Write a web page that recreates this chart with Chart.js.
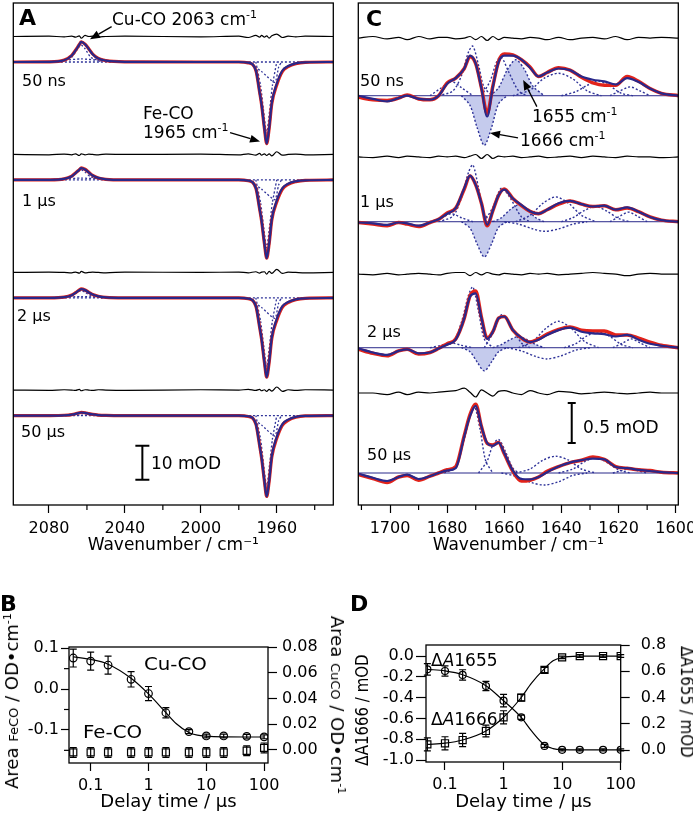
<!DOCTYPE html>
<html lang="en">
<head>
<meta charset="UTF-8">
<title>Time-resolved IR difference spectra</title>
<script src="https://cdn.jsdelivr.net/npm/chart.js"></script>
<style>
    body { margin: 0; background: #fff; }
    #fig { position: relative; width: 693px; height: 819px; overflow: hidden; font-family: 'DejaVu Sans', sans-serif; color: #000; }
    #fig canvas { position: absolute; }
    .t { position: absolute; white-space: nowrap; font-size: 16px; line-height: 1; transform: translateY(-50%); }
    .t sup { font-size: 11px; line-height: 0; vertical-align: 7px; }
    .n17 { font-size: 17px; }
    .big { font-size: 22px; font-weight: bold; }
    .wide { transform: translateY(-50%) scaleX(1.1); transform-origin: left center; font-size: 18px; }
    .rl { transform: translate(-50%, -50%) rotate(-90deg); font-size: 18px; }
    .rr { transform: translate(-50%, -50%) rotate(90deg); font-size: 18px; }
    .rls { transform: translate(-50%, -50%) scaleX(1.15) rotate(-90deg); font-size: 15px; }
    .rrs { transform: translate(-50%, -50%) scaleX(1.15) rotate(90deg); font-size: 15px; }
</style>
</head>
<body>
<div id="fig">
    <canvas id="chartA" width="345" height="560" style="left:0;top:0"></canvas>
    <canvas id="chartC" width="370" height="560" style="left:345px;top:0"></canvas>
    <canvas id="chartB" width="350" height="259" style="left:0;top:560px"></canvas>
    <canvas id="chartD" width="343" height="259" style="left:350px;top:560px"></canvas>

    <div class="t big" style="left:19px;top:18px">A</div>
    <div class="t big" style="left:366px;top:19px">C</div>
    <div class="t big" style="left:0px;top:604px">B</div>
    <div class="t big" style="left:350px;top:604px">D</div>

    <div class="t n17" style="left:112px;top:19px">Cu-CO 2063 cm<sup>-1</sup></div>
    <div class="t n17" style="left:143px;top:113px">Fe-CO</div>
    <div class="t n17" style="left:143px;top:132px">1965 cm<sup>-1</sup></div>
    <div class="t n17" style="left:151px;top:463px">10 mOD</div>

    <div class="t n17" style="left:583px;top:427px">0.5 mOD</div>
    <div class="t n17" style="left:532px;top:116px">1655 cm<sup>-1</sup></div>
    <div class="t n17" style="left:520px;top:140px">1666 cm<sup>-1</sup></div>

    <div class="t wide" style="left:144px;top:664px">Cu-CO</div>
    <div class="t wide" style="left:83px;top:732px">Fe-CO</div>
    <div class="t rl" style="left:12px;top:701px">Area <span style="font-size:13px">FeCO</span> / OD•cm<sup>-1</sup></div>
    <div class="t rr" style="left:337px;top:705px">Area <span style="font-size:13px">CuCO</span> / OD•cm<sup>-1</sup></div>

    <div class="t n17" style="left:431px;top:660px">Δ<i>A</i>1655</div>
    <div class="t n17" style="left:431px;top:719px">Δ<i>A</i>1666</div>
    <div class="t rls" style="left:363px;top:710px">ΔA1666 / mOD</div>
    <div class="t rrs" style="left:686px;top:702px">ΔA1655 / mOD</div>
</div>

<script>
    // ---- row labels (delay after photolysis) ----
    const delays = ['50 ns', '1 \u03BCs', '2 \u03BCs', '50 \u03BCs'];

    // ---- panel A: CO stretch region, mOD ----
    const ticksA = [2080, 2040, 2000, 1960];
    const minorA = [2060, 2020, 1980, 1940];
    const wnA = [2099, 2080, 2072, 2068, 2066, 2064, 2063, 2061, 2059, 2057, 2054, 2050, 2040, 2000, 1980,
        1975, 1971, 1969, 1968, 1966.5, 1965.3, 1964, 1962.6, 1960, 1957, 1954, 1950, 1945, 1930];
    const fitA = [
        [0, 0.05, 0.5, 1.9, 3.4, 5.1, 5.9, 5.2, 3.8, 2.3, 1.0, 0.4, 0.05, 0, 0, -0.2, -2.5, -9, -12.5, -19.5, -24, -19.5, -12, -6.4, -2.5, -1.2, -0.4, -0.1, 0],
        [0, 0.03, 0.3, 1.1, 2.0, 3.0, 3.5, 3.1, 2.2, 1.3, 0.6, 0.2, 0.03, 0, 0, -0.2, -2.4, -8.6, -12, -18.7, -23, -18.7, -11.5, -6.1, -2.4, -1.1, -0.4, -0.1, 0],
        [0, 0.02, 0.22, 0.8, 1.5, 2.3, 2.6, 2.3, 1.6, 1.0, 0.45, 0.15, 0.02, 0, 0, -0.2, -2.4, -8.7, -12.1, -18.9, -23.3, -18.9, -11.6, -6.2, -2.4, -1.2, -0.4, -0.1, 0],
        [0, 0.01, 0.08, 0.28, 0.5, 0.8, 0.9, 0.8, 0.55, 0.33, 0.15, 0.05, 0, 0, 0, -0.2, -2.5, -8.9, -12.4, -19.3, -23.8, -19.3, -11.9, -6.3, -2.5, -1.2, -0.4, -0.1, 0]
    ];
    const dataA = [
        [0, 0.05, 0.55, 1.95, 3.45, 5.15, 5.95, 5.25, 3.85, 2.35, 1.05, 0.4, 0.05, 0, 0, -0.25, -2.5, -9, -12.5, -19.5, -24, -19.6, -12.3, -6.8, -2.8, -1.4, -0.5, -0.1, 0],
        [0, 0.03, 0.32, 1.15, 2.05, 3.05, 3.55, 3.15, 2.25, 1.35, 0.6, 0.2, 0.03, 0, 0, -0.25, -2.4, -8.6, -12, -18.7, -23, -18.8, -11.8, -6.5, -2.7, -1.3, -0.5, -0.1, 0],
        [0, 0.02, 0.24, 0.85, 1.55, 2.35, 2.65, 2.35, 1.65, 1.0, 0.48, 0.15, 0.02, 0, 0, -0.25, -2.4, -8.7, -12.1, -18.9, -23.3, -19.0, -11.9, -6.6, -2.7, -1.4, -0.5, -0.1, 0],
        [0, 0.01, 0.09, 0.29, 0.52, 0.82, 0.92, 0.82, 0.57, 0.34, 0.15, 0.05, 0, 0, 0, -0.25, -2.5, -8.9, -12.4, -19.3, -23.8, -19.4, -12.2, -6.7, -2.8, -1.4, -0.5, -0.1, 0]
    ];
    const residA = [
        [0, 0.1, -0.1, 0.1, -0.2, 0.2, -0.5, 0.3, 0, 0.1, -0.1, 0, 0.1, -0.1, 0.1, -0.3, 0.3, -0.2, 0.3, -0.2, 0.2, -0.5, 0.2, 0.7, -0.3, 0.1, -0.1, 0.1, 0],
        [0, -0.1, 0.1, -0.1, 0.2, -0.3, 0.2, -0.1, 0.1, 0, -0.1, 0.1, 0, 0.1, -0.1, 0.2, -0.2, 0.3, -0.2, 0.2, -0.3, 0.2, -0.4, 0.8, -0.2, 0, 0.1, -0.1, 0],
        [0, 0.1, 0, -0.1, 0.1, -0.2, 0.3, -0.1, 0, 0.1, 0, -0.1, 0.1, 0, 0.1, -0.1, 0.2, -0.2, 0.1, 0.2, -0.5, 0.3, -0.3, 0.9, -0.3, 0.1, 0, -0.1, 0],
        [0, -0.1, 0.1, 0, -0.1, 0.2, -0.2, 0.1, 0, -0.1, 0.1, 0, -0.1, 0.1, 0, 0.2, -0.1, 0.2, -0.2, 0.1, -0.4, 0.2, -0.3, 0.9, -0.4, 0.1, -0.1, 0.1, 0]
    ];
    // fitted bands, [wavenumber, mOD]
    const cuBandA = [
        [[2074, 0], [2068, 1.4], [2065, 3.8], [2063, 5.0], [2061, 3.9], [2058, 1.4], [2052, 0]],
        [[2074, 0], [2068, 0.9], [2065, 2.3], [2063, 3.0], [2061, 2.3], [2058, 0.9], [2052, 0]],
        [[2074, 0], [2068, 0.6], [2065, 1.7], [2063, 2.2], [2061, 1.7], [2058, 0.6], [2052, 0]],
        [[2074, 0], [2068, 0.2], [2065, 0.6], [2063, 0.75], [2061, 0.6], [2058, 0.2], [2052, 0]]
    ];
    const cuBroadA = [
        [[2082, 0], [2072, 0.5], [2063, 0.9], [2054, 0.5], [2044, 0]],
        [[2082, 0], [2072, 0.3], [2063, 0.55], [2054, 0.3], [2044, 0]],
        [[2082, 0], [2072, 0.2], [2063, 0.4], [2054, 0.2], [2044, 0]],
        [[2082, 0], [2072, 0.08], [2063, 0.15], [2054, 0.08], [2044, 0]]
    ];
    const feBandA = [
        [[1971, 0], [1968.5, -7], [1967, -14], [1965.3, -21], [1963.7, -14], [1962.3, -7], [1960, 0]],
        [[1971, 0], [1968.5, -6.7], [1967, -13.3], [1965.3, -20], [1963.7, -13.3], [1962.3, -6.7], [1960, 0]],
        [[1971, 0], [1968.5, -6.8], [1967, -13.5], [1965.3, -20.3], [1963.7, -13.5], [1962.3, -6.8], [1960, 0]],
        [[1971, 0], [1968.5, -7], [1967, -14], [1965.3, -21], [1963.7, -14], [1962.3, -7], [1960, 0]]
    ];
    const feBroadA = [
        [[1975, 0], [1968, -2.8], [1961, -6], [1959, -1.5], [1957.5, 0]],
        [[1975, 0], [1968, -2.7], [1961, -5.8], [1959, -1.5], [1957.5, 0]],
        [[1975, 0], [1968, -2.8], [1961, -6], [1959, -1.5], [1957.5, 0]],
        [[1975, 0], [1968, -2.8], [1961, -6], [1959, -1.5], [1957.5, 0]]
    ];

    // ---- panel C: amide I region, mOD ----
    const ticksC = [1700, 1680, 1660, 1640, 1620, 1600];
    const minorC = [1710, 1690, 1670, 1650, 1630, 1610];
    const wnC = [1711, 1706, 1701, 1697, 1694, 1690, 1686, 1683, 1680, 1677, 1674, 1672, 1670, 1668, 1666, 1664, 1662,
        1660, 1657, 1654, 1651, 1648, 1645, 1641, 1637, 1633, 1629, 1625, 1621, 1617, 1613, 1609, 1605, 1599];
    const fitC = [
        [0, -0.04, -0.07, -0.03, 0.0, -0.04, -0.05, 0, 0.15, 0.22, 0.34, 0.50, 0.40, 0.09, -0.26, 0.11, 0.42, 0.50, 0.50, 0.45, 0.35, 0.24, 0.29, 0.34, 0.32, 0.24, 0.20, 0.18, 0.14, 0.22, 0.17, 0.09, 0.03, 0],
        [-0.01, -0.02, -0.04, -0.01, -0.02, -0.05, -0.01, 0.03, 0.10, 0.17, 0.42, 0.575, 0.46, 0.23, -0.04, 0.14, 0.33, 0.40, 0.29, 0.21, 0.13, 0.10, 0.15, 0.23, 0.26, 0.22, 0.19, 0.20, 0.15, 0.18, 0.125, 0.06, 0.02, 0],
        [-0.01, -0.06, -0.09, -0.04, -0.02, -0.07, -0.06, -0.01, 0.04, 0.10, 0.37, 0.64, 0.68, 0.37, 0.11, 0.20, 0.37, 0.39, 0.22, 0.125, 0.07, 0.10, 0.16, 0.22, 0.25, 0.20, 0.18, 0.17, 0.14, 0.16, 0.10, 0.05, 0.025, 0],
        [-0.01, -0.06, -0.10, -0.05, -0.02, -0.075, -0.04, 0, 0.03, 0.06, 0.46, 0.71, 0.84, 0.58, 0.375, 0.34, 0.38, 0.25, 0.03, -0.075, -0.08, -0.05, 0.01, 0.08, 0.13, 0.16, 0.18, 0.17, 0.075, 0.06, 0.04, 0.025, 0.01, 0]
    ];
    const dataC = [
        [-0.02, -0.05, -0.06, -0.03, 0.01, -0.04, -0.05, 0, 0.16, 0.22, 0.34, 0.49, 0.40, 0.10, -0.22, 0.12, 0.43, 0.52, 0.51, 0.45, 0.36, 0.24, 0.29, 0.35, 0.32, 0.23, 0.16, 0.13, 0.13, 0.24, 0.18, 0.09, 0.03, 0],
        [-0.01, -0.03, -0.05, -0.01, -0.03, -0.06, -0.01, 0.03, 0.11, 0.17, 0.41, 0.57, 0.46, 0.23, -0.05, 0.14, 0.33, 0.41, 0.29, 0.20, 0.13, 0.10, 0.15, 0.22, 0.26, 0.22, 0.19, 0.20, 0.15, 0.17, 0.125, 0.06, 0.02, 0],
        [-0.02, -0.07, -0.10, -0.04, -0.02, -0.08, -0.06, -0.01, 0.05, 0.11, 0.37, 0.65, 0.71, 0.38, 0.12, 0.20, 0.37, 0.39, 0.22, 0.12, 0.07, 0.11, 0.17, 0.23, 0.26, 0.22, 0.21, 0.21, 0.16, 0.16, 0.12, 0.07, 0.03, 0],
        [-0.02, -0.07, -0.12, -0.05, -0.03, -0.09, -0.04, 0, 0.04, 0.08, 0.47, 0.73, 0.86, 0.58, 0.37, 0.35, 0.38, 0.24, 0.02, -0.10, -0.09, -0.05, 0.02, 0.08, 0.13, 0.16, 0.20, 0.17, 0.08, 0.06, 0.04, 0.03, 0.01, 0]
    ];
    const residC = [
        [0, 0.02, -0.01, 0.01, -0.02, 0.02, -0.01, 0.01, 0.01, -0.01, 0.0, 0.02, -0.02, 0.02, -0.03, 0.02, -0.02, 0.01, 0.0, -0.01, 0.01, 0.0, -0.02, 0.01, -0.02, 0.0, 0.01, -0.01, 0.02, -0.02, 0.01, 0.0, 0.01, 0],
        [0, -0.01, 0.01, -0.01, 0.01, 0.0, -0.01, 0.01, 0.0, 0.01, -0.01, 0.01, 0.03, -0.02, 0.03, -0.02, 0.01, 0.0, 0.01, -0.01, 0.0, 0.01, -0.01, 0.0, 0.01, -0.01, 0.01, 0.0, -0.01, 0.01, 0.0, 0.0, -0.01, 0],
        [0, -0.01, 0.01, -0.01, 0.0, 0.01, 0.0, -0.01, 0.01, 0.02, 0.02, -0.02, 0.02, -0.01, 0.02, 0.0, -0.01, 0.01, 0.0, -0.01, 0.01, 0.0, 0.01, -0.01, 0.0, 0.01, 0.02, 0.01, 0.0, -0.02, 0.0, 0.01, 0.0, 0],
        [0, 0.0, -0.02, 0.01, -0.02, 0.01, 0.0, 0.01, 0.02, 0.03, 0.06, 0.01, -0.05, 0.04, 0.0, -0.04, 0.02, 0.03, 0.0, -0.02, 0.03, 0.0, -0.02, 0.02, 0.01, -0.01, 0.0, 0.01, 0.0, -0.01, 0.0, 0.01, 0.0, 0]
    ];
    // fitted bands per row, [wavenumber, mOD]
    const bandsC = [
        [
            [[1683, 0], [1678, 0.06], [1675, 0.25], [1672.5, 0.55], [1671, 0.62], [1669, 0.38], [1667, 0.10], [1664, 0]],
            [[1686, 0], [1682, 0.10], [1678.5, 0.18], [1675, 0.10], [1671, 0]],
            [[1668, 0], [1665, 0.18], [1662.5, 0.44], [1661, 0.48], [1658.5, 0.30], [1655, 0.06], [1652, 0]],
            [[1657, 0], [1651, 0.07], [1646, 0.22], [1641, 0.28], [1636, 0.21], [1631, 0.06], [1626, 0]],
            [[1640, 0], [1635, 0.05], [1631, 0.13], [1627, 0.18], [1623, 0.12], [1619, 0.03], [1615, 0]],
            [[1623, 0], [1619.5, 0.06], [1616, 0.11], [1612.5, 0.06], [1609, 0]]
        ],
        [
            [[1683, 0], [1678, 0.07], [1675, 0.30], [1672.5, 0.62], [1671, 0.71], [1669, 0.42], [1667, 0.10], [1664, 0]],
            [[1686, 0], [1682, 0.05], [1678.5, 0.10], [1675, 0.05], [1671, 0]],
            [[1667, 0], [1664, 0.18], [1661, 0.42], [1658, 0.30], [1654, 0.06], [1651, 0]],
            [[1656, 0], [1651, 0.08], [1646.5, 0.23], [1642, 0.31], [1637.5, 0.23], [1633, 0.08], [1628, 0]],
            [[1660, 0], [1655, -0.03], [1650, -0.09], [1646, -0.12], [1641, -0.09], [1636, -0.03], [1631, 0]],
            [[1640, 0], [1636, 0.05], [1632, 0.14], [1628, 0.19], [1624, 0.13], [1620, 0.04], [1616, 0]],
            [[1623, 0], [1619.5, 0.07], [1616.5, 0.12], [1613.5, 0.07], [1610, 0]]
        ],
        [
            [[1683, 0], [1678, 0.07], [1675, 0.32], [1672.5, 0.66], [1671, 0.76], [1669, 0.45], [1667, 0.11], [1664, 0]],
            [[1686, 0], [1682, 0.03], [1678.5, 0.06], [1675, 0.03], [1671, 0]],
            [[1667, 0], [1664, 0.18], [1661, 0.41], [1658, 0.29], [1654, 0.06], [1651, 0]],
            [[1655, 0], [1650, 0.08], [1645.5, 0.24], [1641, 0.33], [1636.5, 0.24], [1632, 0.08], [1627, 0]],
            [[1659, 0], [1654, -0.04], [1649, -0.11], [1645, -0.14], [1640, -0.10], [1635, -0.03], [1630, 0]],
            [[1639, 0], [1635, 0.05], [1631, 0.15], [1627, 0.20], [1623, 0.14], [1619, 0.04], [1615, 0]],
            [[1622, 0], [1618.5, 0.06], [1615.5, 0.11], [1612.5, 0.06], [1609, 0]]
        ],
        [
            [[1681, 0], [1677, 0.08], [1674, 0.42], [1672, 0.74], [1670.5, 0.84], [1668.5, 0.55], [1666.5, 0.15], [1664, 0]],
            [[1669, 0], [1666, 0.15], [1664, 0.35], [1662, 0.42], [1659.5, 0.26], [1657, 0.06], [1655, 0]],
            [[1656, 0], [1651, 0.05], [1646.5, 0.16], [1642, 0.21], [1637.5, 0.16], [1633, 0.05], [1628, 0]],
            [[1661, 0], [1656, -0.04], [1650.5, -0.12], [1646, -0.15], [1641, -0.11], [1636, -0.03], [1631, 0]],
            [[1641, 0], [1636, 0.05], [1632, 0.14], [1628, 0.19], [1624, 0.13], [1620, 0.04], [1616, 0]],
            [[1622, 0], [1619, 0.03], [1616.5, 0.05], [1613.5, 0.03], [1610, 0]]
        ]
    ];
    // shaded 1666 (bleach) and 1655 bands, rows 1-3
    const band1666 = [
        [[1675, 0], [1672, -0.12], [1669.5, -0.40], [1667, -0.62], [1664.5, -0.40], [1662, -0.10], [1659, 0]],
        [[1675, 0], [1672, -0.08], [1669.5, -0.28], [1667, -0.44], [1664.5, -0.28], [1662, -0.07], [1659, 0]],
        [[1675, 0], [1672, -0.05], [1669.5, -0.18], [1667, -0.29], [1664.5, -0.18], [1662, -0.05], [1659, 0]]
    ];
    const band1655 = [
        [[1665, 0], [1662, 0.10], [1659, 0.32], [1656, 0.45], [1653, 0.33], [1650, 0.12], [1646, 0]],
        [[1664, 0], [1661, 0.05], [1658, 0.15], [1655, 0.21], [1652, 0.15], [1649, 0.05], [1646, 0]],
        [[1664, 0], [1661, 0.04], [1658, 0.10], [1655, 0.14], [1652, 0.10], [1649, 0.04], [1646, 0]]
    ];

    // ---- panel B: band areas vs delay ----
    const decades = [0.1, 1, 10, 100];
    const delayT = [0.05, 0.1, 0.2, 0.5, 1, 2, 5, 10, 20, 50, 100];
    const areaCuCO = [0.0716, 0.0692, 0.0661, 0.055, 0.0439, 0.0289, 0.0142, 0.0108, 0.0108, 0.0105, 0.0101];
    const errCuCO = [0.007, 0.007, 0.007, 0.006, 0.0055, 0.004, 0.0015, 0.0015, 0.0015, 0.0015, 0.0015];
    const areaFeCO = [-0.155, -0.155, -0.155, -0.155, -0.155, -0.155, -0.155, -0.155, -0.155, -0.151, -0.144];
    const errFeCO = [0.012, 0.012, 0.012, 0.012, 0.012, 0.012, 0.012, 0.012, 0.012, 0.012, 0.012];
    const fitT = [0.05, 0.1, 0.2, 0.5, 1, 2, 3, 5, 7, 10, 20, 50, 100];
    const fitCuCO = [0.0725, 0.0705, 0.0668, 0.0558, 0.0436, 0.0290, 0.0205, 0.0135, 0.0114, 0.0106, 0.0101, 0.0100, 0.0100];

    // ---- panel D: absorbance changes vs delay ----
    const dA1666 = [-0.128, -0.144, -0.182, -0.288, -0.429, -0.589, -0.864, -0.902, -0.902, -0.902, -0.902];
    const err1666 = [0.055, 0.05, 0.05, 0.045, 0.06, 0.02, 0.015, 0.01, 0.01, 0.01, 0.01];
    const dA1655 = [0.043, 0.051, 0.076, 0.145, 0.249, 0.399, 0.61, 0.706, 0.716, 0.716, 0.716];
    const err1655 = [0.05, 0.05, 0.05, 0.045, 0.05, 0.025, 0.02, 0.01, 0.01, 0.01, 0.01];
    const fit1666 = [-0.128, -0.143, -0.18, -0.285, -0.43, -0.59, -0.72, -0.855, -0.89, -0.90, -0.902, -0.902, -0.902];
    const fit1655 = [0.043, 0.052, 0.076, 0.145, 0.25, 0.40, 0.51, 0.62, 0.68, 0.705, 0.715, 0.716, 0.716];

    Chart.defaults.font.family = "'DejaVu Sans', sans-serif";
    Chart.defaults.font.size = 16;
    Chart.defaults.color = '#000';

    const RED = '#e2231a', BLUE = '#29288a', DASH = '#2f3399', SHADE = 'rgba(150,160,222,0.55)';

    function pts(xs, ys, off) { return xs.map((x, i) => ({ x: x, y: ys[i] + off })); }
    function pairs(list, off) { return list.map(p => ({ x: p[0], y: p[1] + off })); }
    function trace(data, color, width, order, more) {
        return Object.assign({
            data: data, borderColor: color, borderWidth: width, order: order,
            pointRadius: 0, fill: false, cubicInterpolationMode: 'monotone'
        }, more || {});
    }

    // frame, minor ticks, error bars, scale bar and arrows
    function decor(cfg) {
        return {
            id: 'decor',
            afterDatasetsDraw(chart) {
                const ctx = chart.ctx, a = chart.chartArea;
                ctx.save();
                ctx.strokeStyle = '#000';
                ctx.fillStyle = '#000';
                ctx.lineWidth = 1.2;
                chart.data.datasets.forEach((ds, i) => {
                    if (!ds.errors) return;
                    const ys = chart.scales[ds.yAxisID];
                    chart.getDatasetMeta(i).data.forEach((pt, j) => {
                        const v = ds.data[j].y, e = ds.errors[j];
                        const y0 = ys.getPixelForValue(v - e), y1 = ys.getPixelForValue(v + e);
                        ctx.beginPath();
                        ctx.moveTo(pt.x, y0); ctx.lineTo(pt.x, y1);
                        ctx.moveTo(pt.x - 3.5, y0); ctx.lineTo(pt.x + 3.5, y0);
                        ctx.moveTo(pt.x - 3.5, y1); ctx.lineTo(pt.x + 3.5, y1);
                        ctx.stroke();
                    });
                });
                ctx.lineWidth = 1.3;
                ctx.strokeRect(a.left, a.top, a.right - a.left, a.bottom - a.top);
                ctx.lineWidth = 1.2;
                (cfg.minor || []).forEach(m => {
                    const s = chart.scales[m.axis];
                    m.values.forEach(v => {
                        const p = s.getPixelForValue(v);
                        ctx.beginPath();
                        if (m.axis === 'x') { ctx.moveTo(p, a.bottom); ctx.lineTo(p, a.bottom + m.len); }
                        else if (s.position === 'left') { ctx.moveTo(a.left, p); ctx.lineTo(a.left - m.len, p); }
                        else { ctx.moveTo(a.right, p); ctx.lineTo(a.right + m.len, p); }
                        ctx.stroke();
                    });
                });
                const xs = chart.scales.x, ys = chart.scales.y;
                if (cfg.bar) {
                    const b = cfg.bar, x = xs.getPixelForValue(b.x);
                    const y0 = ys.getPixelForValue(b.y0), y1 = ys.getPixelForValue(b.y0 + b.len);
                    ctx.lineWidth = 2;
                    ctx.beginPath();
                    ctx.moveTo(x, y0); ctx.lineTo(x, y1);
                    ctx.moveTo(x - b.cap, y0); ctx.lineTo(x + b.cap, y0);
                    ctx.moveTo(x - b.cap, y1); ctx.lineTo(x + b.cap, y1);
                    ctx.stroke();
                }
                ctx.lineWidth = 1.3;
                (cfg.arrows || []).forEach(ar => {
                    const x0 = xs.getPixelForValue(ar[0]), y0 = ys.getPixelForValue(ar[1]);
                    const x1 = xs.getPixelForValue(ar[2]), y1 = ys.getPixelForValue(ar[3]);
                    const ang = Math.atan2(y1 - y0, x1 - x0), L = 10, W = 4;
                    const bx = x1 - L * Math.cos(ang), by = y1 - L * Math.sin(ang);
                    ctx.beginPath(); ctx.moveTo(x0, y0); ctx.lineTo(bx, by); ctx.stroke();
                    ctx.beginPath();
                    ctx.moveTo(x1, y1);
                    ctx.lineTo(bx + W * Math.sin(ang), by - W * Math.cos(ang));
                    ctx.lineTo(bx - W * Math.sin(ang), by + W * Math.cos(ang));
                    ctx.closePath(); ctx.fill();
                });
                ctx.restore();
            }
        };
    }

    function spectrumOptions(xmin, xmax, ymin, ymax, major, pad) {
        return {
            responsive: false, animation: false, events: [],
            layout: { padding: pad },
            plugins: { legend: { display: false }, tooltip: { enabled: false } },
            scales: {
                x: {
                    type: 'linear', reverse: true, min: xmin, max: xmax,
                    afterBuildTicks: s => { s.ticks = major.map(v => ({ value: v })); },
                    afterFit: s => { s.height = 55; },
                    ticks: { callback: v => String(v), padding: 6, maxRotation: 0, autoSkip: false },
                    grid: { drawOnChartArea: false, tickLength: 8, tickColor: '#000', tickWidth: 1.2 },
                    border: { display: false },
                    title: { display: true, text: 'Wavenumber / cm\u207B\u00B9', font: { size: 17 }, padding: { top: 0, bottom: 4 } }
                },
                y: { display: false, min: ymin, max: ymax }
            }
        };
    }

    // --- A ---
    const rowOffA = [0, -34.7, -69.4, -104.0], resOffA = 7.5;
    const dsA = [];
    for (let r = 0; r < 4; r++) {
        const off = rowOffA[r];
        dsA.push(trace(pts(wnA, residA[r], off + resOffA), '#000', 1.2, 1));
        dsA.push(trace(pts(wnA, fitA[r], off), BLUE, 2.2, 2));
        dsA.push(trace(pts(wnA, dataA[r], off), RED, 3.2, 3));
        [cuBandA[r], cuBroadA[r], feBandA[r], feBroadA[r]].forEach(b =>
            dsA.push(trace(pairs(b, off), DASH, 1.3, 4, { borderDash: [2, 2], cubicInterpolationMode: 'default', tension: 0.2 })));
        dsA.push(trace(pairs([[2099, 0], [1930, 0]], off), DASH, 1.3, 5, { borderDash: [2, 2] }));
    }
    new Chart(document.getElementById('chartA'), {
        type: 'line',
        data: { datasets: dsA },
        options: spectrumOptions(1930.2, 2098.8, -130.3, 17.35, ticksA, { left: 13.3, right: 11.7, top: 3, bottom: 0 }),
        plugins: [decor({
            minor: [{ axis: 'x', values: minorA, len: 5 }],
            bar: { x: 2030.8, y0: -122.9, len: 10, cap: 7 },
            arrows: [[2047, 10.4, 2058.4, 6.7], [1984.6, -20.8, 1968.8, -23.4]]
        })]
    });

    // --- C ---
    const rowOffC = [0, -1.575, -3.15, -4.716], resOffC = [0.72, 0.81, 0.92, 1.0];
    const dsC = [];
    for (let r = 0; r < 4; r++) {
        const off = rowOffC[r];
        dsC.push(trace(pts(wnC, residC[r], off + resOffC[r]), '#000', 1.2, 1));
        dsC.push(trace(pts(wnC, fitC[r], off), BLUE, 2.2, 2));
        dsC.push(trace(pts(wnC, dataC[r], off), RED, 3.5, 3));
        bandsC[r].forEach(b =>
            dsC.push(trace(pairs(b, off), DASH, 1.4, 4, { borderDash: [2, 2], cubicInterpolationMode: 'default', tension: 0.3 })));
        if (r < 3) {
            [band1666[r], band1655[r]].forEach(b =>
                dsC.push(trace(pairs(b, off), DASH, 1.4, 6, {
                    borderDash: [2, 2], cubicInterpolationMode: 'default', tension: 0.3,
                    fill: { value: off }, backgroundColor: SHADE
                })));
        }
        dsC.push(trace(pairs([[1711.1, 0], [1599.1, 0]], off), BLUE, 1, 5));
    }
    new Chart(document.getElementById('chartC'), {
        type: 'line',
        data: { datasets: dsC },
        options: spectrumOptions(1599.1, 1711.1, -5.116, 1.159, ticksC, { left: 13.3, right: 36.7, top: 3, bottom: 0 }),
        plugins: [decor({
            minor: [{ axis: 'x', values: minorC, len: 5 }],
            bar: { x: 1636.4, y0: -4.34, len: 0.5, cap: 4 },
            arrows: [[1648.6, -0.136, 1653.4, 0.197], [1655.2, -0.5275, 1665, -0.465]]
        })]
    });

    // --- kinetics panels ---
    function kineticsOptions(o) {
        const yAxis = (pos, min, max, ticks, fmt, width, tl, pad) => ({
            position: pos, min: min, max: max,
            afterBuildTicks: s => { s.ticks = ticks.map(v => ({ value: v })); },
            afterFit: s => { s.width = width; },
            ticks: { callback: v => v.toFixed(fmt), padding: pad, autoSkip: false },
            grid: { drawOnChartArea: false, tickLength: tl, tickColor: '#000', tickWidth: 1.2 },
            border: { display: false }
        });
        return {
            responsive: false, animation: false, events: [],
            layout: { padding: { top: o.top, left: 0, right: 0, bottom: 0 } },
            plugins: { legend: { display: false }, tooltip: { enabled: false } },
            scales: {
                x: {
                    type: 'logarithmic', min: o.xmin, max: o.xmax,
                    afterBuildTicks: s => { s.ticks = decades.map(v => ({ value: v })); },
                    afterFit: s => { s.height = o.xh; },
                    ticks: { callback: v => String(v), padding: 5, maxRotation: 0, autoSkip: false },
                    grid: { drawOnChartArea: false, tickLength: 8, tickColor: '#000', tickWidth: 1.2 },
                    border: { display: false },
                    title: { display: true, text: 'Delay time / \u03BCs', font: { size: 18 }, padding: { top: 0, bottom: 6 } }
                },
                y: yAxis('left', o.y[0], o.y[1], o.y[2], o.y[3], o.lw, o.ltl, o.lpad),
                y2: yAxis('right', o.y2[0], o.y2[1], o.y2[2], o.y2[3], o.rw, o.rtl, o.rpad)
            }
        };
    }
    const marker = (style, r, errs, axis, order) => ({
        showLine: false, pointStyle: style, pointRadius: r, pointBorderWidth: 1.2,
        pointBorderColor: '#000', pointBackgroundColor: 'rgba(0,0,0,0)', borderColor: '#000',
        errors: errs, yAxisID: axis, order: order
    });

    new Chart(document.getElementById('chartB'), {
        type: 'line',
        data: {
            datasets: [
                trace(pts(fitT, fitCuCO, 0), '#000', 1.2, 3, { yAxisID: 'y2' }),
                Object.assign({ data: pts(delayT, areaCuCO, 0) }, marker('circle', 3.8, errCuCO, 'y2', 1)),
                Object.assign({ data: pts(delayT, areaFeCO, 0) }, marker('rect', 5, errFeCO, 'y', 2))
            ]
        },
        options: kineticsOptions({
            top: 87, xh: 56, xmin: 0.0422, xmax: 116.7, lw: 69, rw: 82, ltl: 8, lpad: 2, rtl: 9, rpad: 5,
            y: [-0.181, 0.103, [-0.1, 0, 0.1], 1],
            y2: [-0.0103, 0.0802, [0, 0.02, 0.04, 0.06, 0.08], 2]
        }),
        plugins: [decor({ minor: [{ axis: 'y', values: [-0.15, -0.05, 0.05], len: 5 }] })]
    });

    new Chart(document.getElementById('chartD'), {
        type: 'line',
        data: {
            datasets: [
                trace(pts(fitT, fit1666, 0), '#000', 1.2, 3, { yAxisID: 'y' }),
                trace(pts(fitT, fit1655, 0), '#000', 1.2, 3, { yAxisID: 'y2' }),
                Object.assign({ data: pts(delayT, dA1666, 0) }, marker('circle', 3.5, err1666, 'y', 1)),
                Object.assign({ data: pts(delayT, dA1655, 0) }, marker('rect', 5, err1655, 'y2', 2))
            ]
        },
        options: kineticsOptions({
            top: 85, xh: 57, xmin: 0.0474, xmax: 100, lw: 76, rw: 72.3, ltl: 10, lpad: 2, rtl: 9, rpad: 11,
            y: [-1.019, 0.106, [-1.0, -0.8, -0.6, -0.4, -0.2, 0], 1],
            y2: [-0.0914, 0.8, [0, 0.2, 0.4, 0.6, 0.8], 1]
        }),
        plugins: [decor({})]
    });

    // delay labels on the spectra rows
    const fig = document.getElementById('fig');
    const rowLabelPos = [
        [[22, 81], [22, 201], [17, 316], [21, 432]],
        [[360, 81], [360, 202], [367, 332], [367, 455]]
    ];
    rowLabelPos.forEach(panel => panel.forEach((p, i) => {
        const d = document.createElement('div');
        d.className = 't';
        d.style.left = p[0] + 'px';
        d.style.top = p[1] + 'px';
        d.textContent = delays[i];
        fig.appendChild(d);
    }));
</script>
</body>
</html>
